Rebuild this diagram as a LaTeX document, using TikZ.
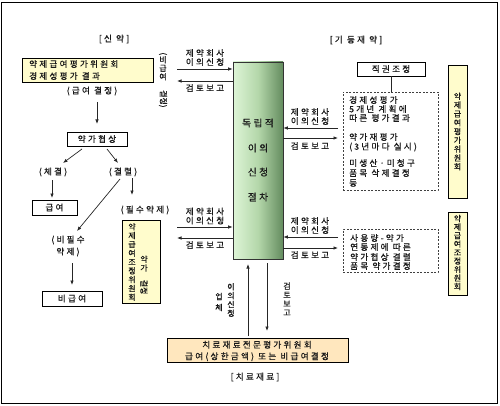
\documentclass[tikz,border=0pt]{standalone}
\usepackage{fontspec}
\usepackage{graphicx}
\setmainfont{Noto Sans CJK KR}[LetterSpace=26,FakeBold=0.6]
\newfontfamily\krv{Noto Sans CJK KR}[FakeBold=0.6]
\usetikzlibrary{arrows.meta,shadows}
\definecolor{ylw}{RGB}{255,252,204}
\definecolor{pch}{RGB}{255,231,190}
\definecolor{gL}{RGB}{222,245,215}
\definecolor{gM}{RGB}{180,215,170}
\definecolor{gR}{RGB}{100,140,95}
\definecolor{ink}{RGB}{25,25,25}
\begin{document}
\begin{tikzpicture}[x=1pt,y=-1pt,
 every node/.style={inner sep=0pt, text=ink},
 t/.style={font=\fontsize{8.6}{9}\selectfont},
 t2/.style={font=\fontsize{8.6}{12}\selectfont, align=center},
 vt/.style={font=\krv\fontsize{8}{8.8}\selectfont, align=center},
 sbox/.style={draw=black, line width=0.6pt, fill=white, drop shadow={shadow xshift=1pt,shadow yshift=-1pt,fill=black!55,opacity=1}},
 ybox/.style={sbox, fill=ylw},
 dbox/.style={draw=black!75, line width=0.6pt, dash pattern=on 2pt off 1.5pt},
 arr/.style={-{Latex[length=4.5pt,width=3.5pt]}, line width=0.7pt, draw=black!85},
 ln/.style={line width=0.7pt, draw=black!85},
 ctext/.style={font=\fontsize{9.6}{10}\selectfont}
]
\useasboundingbox (0,0) rectangle (500,406);
\draw[line width=1.6pt] (1.5,2.5) rectangle (497.5,403.5);

% titles
\node[t] (tNew) at (114,39) {[신 약]};
\node[t] (tOld) at (356,40) {[기 등재 약]};
\node[t] (tMat) at (255,377) {[치료재료]};

% new drug side
\node[ybox, minimum width=131pt, minimum height=24pt] (b1) at (87.5,70) {};
\node[t2, anchor=west, align=left] (b1t) at (29,70) {약제급여평가위원회\\경제성평가 결과};
\node[t] (gd) at (92,91) {(급여 결정)};
\node[vt, font=\krv\fontsize{8}{8.5}\selectfont] (nbv) at (163,80) {\rotatebox{-90}{(}\\비\\급\\여\\[2pt]\rotatebox{-90}{결정)}};
\coordinate (a1s) at (97,102); \coordinate (a1e) at (97,124);
\draw[arr] (a1s) -- (a1e);
\node[sbox, t, minimum width=60pt, minimum height=14pt] (nego) at (97,139) {약가협상};
\node[t] (sign) at (53,172) {(체결)};
\node[t] (brk) at (123,172) {(결렬)};
\coordinate (n1s) at (82,149); \coordinate (n1e) at (63,163);
\coordinate (n2s) at (107,149); \coordinate (n2e) at (118,163);
\draw[arr] (n1s) -- (n1e);
\draw[arr] (n2s) -- (n2e);
\node[sbox, t, minimum width=45pt, minimum height=15pt] (ben) at (54.5,207.5) {급여};
\coordinate (s1) at (52,180); \coordinate (s2) at (52,198);
\draw[arr] (s1) -- (s2);
\node[t] (ess) at (145,210) {(필수약제)};
\coordinate (k1) at (132,178); \coordinate (k2) at (132,195);
\draw[arr] (k1) -- (k2);
\coordinate (g1) at (120,179); \coordinate (g2) at (77,231);
\draw[arr] (g1) -- (g2);
\node[t2] (ness) at (68,246) {(비필수\\약제)};
\coordinate (m1) at (72,263); \coordinate (m2) at (72,285);
\draw[arr] (m1) -- (m2);
\node[sbox, t, minimum width=60pt, minimum height=15pt] (nben) at (72,298.5) {비급여};
\node[ybox, minimum width=38pt, minimum height=83pt] (b2) at (141,261.5) {};
\node[vt] (b2a) at (132,262) {약\\제\\급\\여\\조\\정\\위\\원\\회};
\node[vt] (b2b) at (144,275) {약\\가\\\rotatebox{-90}{결정}};

% central column
\node[draw=black!80, line width=0.6pt, minimum width=50pt, minimum height=197pt,
      left color=gL, right color=gR, middle color=gM] (col) at (258,160.5) {};
\node[ctext] (c1) at (258,123) {독립적};
\node[ctext] (c2) at (258,148) {이의};
\node[ctext] (c3) at (258,172) {신청};
\node[ctext] (c4) at (258,197) {절차};

% left arrows
\coordinate (L1) at (177,69); \coordinate (L2) at (177,81);
\draw[arr] (L1) -- (L1 -| col.west);
\draw[arr] (L2 -| col.west) -- (L2);
\node[t, align=center] (L1t) at (205,57.5) {제약회사\\이의신청};
\node[t] (L2t) at (205,88) {검토보고};
\coordinate (L3) at (177,227); \coordinate (L4) at (177,238);
\draw[arr] (L3) -- (L3 -| col.west);
\draw[arr] (L4 -| col.west) -- (L4);
\node[t, align=center] (L3t) at (205,216) {제약회사\\이의신청};
\node[t] (L4t) at (205,245) {검토보고};

% right arrows
\coordinate (R1) at (338,128); \coordinate (R2) at (338,138);
\draw[arr] (R1) -- (R1 -| col.east);
\draw[arr] (R2 -| col.east) -- (R2);
\node[t, align=center] (R1t) at (310,116.5) {제약회사\\이의신청};
\node[t] (R2t) at (310,146) {검토보고};
\coordinate (R3) at (338,237); \coordinate (R4) at (338,248);
\draw[arr] (R3) -- (R3 -| col.east);
\draw[arr] (R4 -| col.east) -- (R4);
\node[t, align=center] (R3t) at (310,225.5) {제약회사\\이의신청};
\node[t] (R4t) at (310,255) {검토보고};

% bottom
\coordinate (U1) at (248,336); \coordinate (U2) at (248,264);
\draw[arr] (U1) -- (U2);
\coordinate (D1) at (267,263); \coordinate (D2) at (267,331);
\draw[arr] (D1) -- (D2);
\node[vt, font=\krv\fontsize{8}{11}\selectfont] (up1) at (219,302) {업\\체};
\node[vt] (up2) at (231,300) {이\\의\\신\\청};
\node[vt] (dn1) at (287,299) {검\\토\\보\\고};
\node[sbox, fill=pch, minimum width=181pt, minimum height=24pt] (mat) at (257.5,350) {};
\node[t2, font=\fontsize{8.6}{11.5}\selectfont] (matt) at (257,351) {치료재료전문평가위원회\\급여(상한금액) 또는 비급여결정};

% registered drugs side
\node[sbox, t, minimum width=68pt, minimum height=14pt] (auth) at (391,69) {직권조정};
\node[dbox, minimum width=95pt, minimum height=98pt] (d1) at (390.5,141) {};
\draw[ln] (auth.south) -- (auth.south |- d1.north);
\node[t, anchor=west] (d1a) at (349,100) {경제성평가};
\node[t, anchor=west] (d1b) at (349,109) {5개년 계획에};
\node[t, anchor=west] (d1c) at (349,118) {따른 평가결과};
\node[t, anchor=west] (d1d) at (349,137) {약가재평가};
\node[t, anchor=west] (d1e) at (349,147) {(3년마다 실시)};
\node[t, anchor=west] (d1f) at (349,163) {미생산·미청구};
\node[t, anchor=west] (d1g) at (349,173) {품목 삭제결정};
\node[t, anchor=west] (d1h) at (349,183) {등};
\node[dbox, minimum width=95pt, minimum height=43pt] (d2) at (390.5,250.5) {};
\node[t, anchor=west] (d2a) at (350,238) {사용량-약가};
\node[t, anchor=west] (d2b) at (350,247) {연동제에 따른};
\node[t, anchor=west] (d2c) at (350,257) {약가협상 결렬};
\node[t, anchor=west] (d2d) at (350,266) {품목 약가결정};

\node[ybox, minimum width=19pt, minimum height=133pt] (y1) at (457.5,131.5) {};
\node[vt, font=\krv\fontsize{8}{8.8}\selectfont] (y1t) at (457.5,131.5) {약\\제\\급\\여\\평\\가\\위\\원\\회};
\node[ybox, minimum width=19pt, minimum height=83pt] (y2) at (457.5,253.5) {};
\node[vt, font=\krv\fontsize{8}{8.5}\selectfont] (y2t) at (457.5,252.5) {약\\제\\급\\여\\조\\정\\위\\원\\회};
\end{tikzpicture}
\end{document}
